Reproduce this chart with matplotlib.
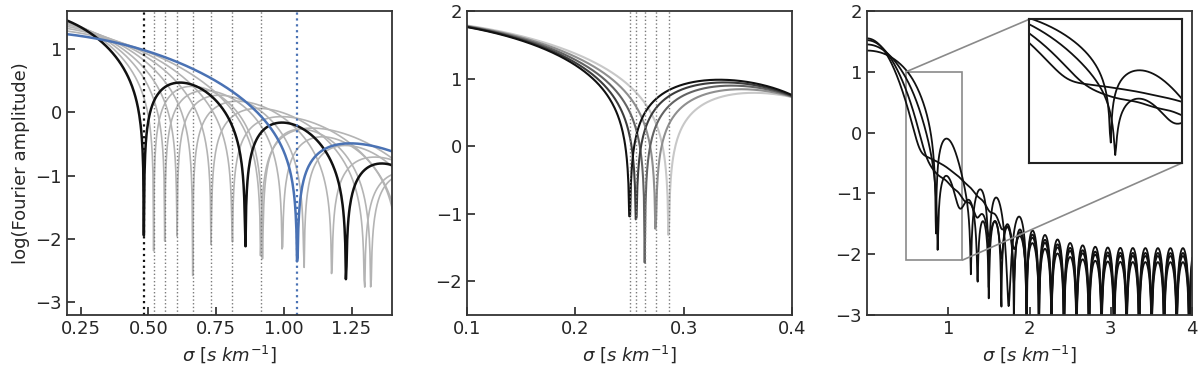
import numpy as np
import matplotlib.pyplot as plt
from mpl_toolkits.axes_grid1.inset_locator import mark_inset

# ---------------- values ----------------
# left panel: first zeros (s/km) of the rotational transforms
left_black_zero = 0.484
left_blue_zero = 1.050
left_grey_zeros = [0.520, 0.561, 0.606, 0.664, 0.732, 0.810, 0.915]
left_black_peak = 1.62      # log amplitude at sigma = 0 for the black curve
left_eps = 0.5              # limb darkening
left_damp = 1.1             # gaussian damping of the transform

# middle panel: same vsini, different limb darkening
mid_zeros = [0.250, 0.256, 0.264, 0.274, 0.286]
mid_eps = [0.0, 0.25, 0.5, 0.75, 1.0]
mid_colors = ["#111111", "#3c3c3c", "#636363", "#8f8f8f", "#c8c8c8"]
mid_peak = 1.90
mid_damp = 0.8

# right panel: four observed-like transforms
right_peak = [1.35, 1.45, 1.52, 1.55]
right_zero = [0.845, 0.866, 0.90, 0.90]
right_second_zero = [1.247, 0, 0, 0]
right_damp_scale = [1.20, 0.609, 0.423, 0.354]
right_damp_power = [4, 2, 2, 2]
right_odd = [0.05, 0.045, 1.0, 1.27]          # asymmetric (imaginary) part
right_odd_width = [0.79, 0.79, 0.72, 0.79]
right_ripple = [-1.90, -1.98, -2.03, -2.13]   # log level of the high-sigma ripple
ripple_peak = 2.962
ripple_period = 0.154


def bessel_j1(x):
    tau = np.linspace(0, np.pi, 401)
    return np.trapezoid(np.cos(tau - x[:, None] * np.sin(tau)), tau, axis=1) / np.pi


def rot_ft(x, eps):
    x = np.maximum(x, 1e-3)
    a = bessel_j1(x) / x
    b = (np.sin(x) - x * np.cos(x)) / x**3
    return ((1 - eps) * a + eps * b) / ((1 - eps) / 2 + eps / 3)


def first_zero(eps):
    x = np.linspace(3.5, 4.8, 2601)
    g = rot_ft(x, eps)
    i = np.argmax(g < 0)
    return x[i - 1] + (x[i] - x[i - 1]) * g[i - 1] / (g[i - 1] - g[i])


def rot_curve(sig, zero, eps):
    return rot_ft(first_zero(eps) * sig / zero, eps)


plt.rcParams["font.family"] = "DejaVu Sans"
plt.rcParams["font.size"] = 13
plt.rcParams["text.color"] = "#262626"
plt.rcParams["axes.labelcolor"] = "#262626"
plt.rcParams["xtick.color"] = "#262626"
plt.rcParams["ytick.color"] = "#262626"
plt.rcParams["axes.edgecolor"] = "#333333"
plt.rcParams["axes.linewidth"] = 1.3

fig = plt.figure(figsize=(12, 3.73), dpi=100)
w, h, b = 0.271, 0.815, 0.1555
ax1 = fig.add_axes([0.0558, b, w, h])
ax2 = fig.add_axes([0.3892, b, w, h])
ax3 = fig.add_axes([0.7225, b, w, h])

xlabel = r"$\sigma\ [s\ km^{-1}]$"
blue = "#4a72b4"

# ---------------- left panel ----------------
sig = np.linspace(0.2, 1.4, 500)
for z in left_grey_zeros:
    peak = left_black_peak - np.log10(z / left_black_zero)
    g = 10**peak * rot_curve(sig, z, left_eps) * np.exp(-left_damp * sig**2)
    ax1.plot(sig, np.log10(np.abs(g)), color="#b4b4b4", lw=1.2)
    ax1.axvline(z, color="#7a7a7a", ls=":", lw=1.0)

g = 10**left_black_peak * rot_curve(sig, left_black_zero, left_eps) * np.exp(-left_damp * sig**2)
ax1.plot(sig, np.log10(np.abs(g)), color="#111111", lw=1.8)
ax1.axvline(left_black_zero, color="#111111", ls=":", lw=1.6)

peak = left_black_peak - np.log10(left_blue_zero / left_black_zero)
g = 10**peak * rot_curve(sig, left_blue_zero, left_eps) * np.exp(-left_damp * sig**2)
ax1.plot(sig, np.log10(np.abs(g)), color=blue, lw=1.8)
ax1.axvline(left_blue_zero, color=blue, ls=":", lw=1.6)

ax1.set_xlim(0.2, 1.4)
ax1.set_ylim(-3.2, 1.6)
ax1.set_xticks([0.25, 0.5, 0.75, 1.0, 1.25])
ax1.set_xticklabels(["0.25", "0.50", "0.75", "1.00", "1.25"])
ax1.set_yticks([-3, -2, -1, 0, 1])
ax1.set_ylabel("log(Fourier amplitude)")

# ---------------- middle panel ----------------
sig = np.linspace(0.1, 0.4, 400)
for z, e, c in zip(mid_zeros[::-1], mid_eps[::-1], mid_colors[::-1]):
    g = 10**mid_peak * rot_curve(sig, z, e) * np.exp(-mid_damp * sig**2)
    ax2.plot(sig, np.log10(np.abs(g)), color=c, lw=1.5)
for z in mid_zeros:
    ax2.axvline(z, color="#7a7a7a", ls=":", lw=1.0)
ax2.set_xlim(0.1, 0.4)
ax2.set_ylim(-2.5, 2)
ax2.set_xticks([0.1, 0.2, 0.3, 0.4])
ax2.set_yticks([-2, -1, 0, 1, 2])

# ---------------- right panel ----------------
sig = np.linspace(0.0, 4.0, 1000)
axins = fig.add_axes([0.8575, 0.563, 0.1275, 0.385])
for k in range(4):
    damp = np.exp(-(sig / right_damp_scale[k]) ** right_damp_power[k])
    real = 10**right_peak[k] * rot_curve(sig, right_zero[k], 0.5) * damp
    if right_second_zero[k] > 0:
        real = real * (1 - (sig / right_second_zero[k]) ** 4)
    boost = 1 + 3 * np.exp(-((sig - 1.2) / 0.8) ** 2)
    real = real + 10**right_ripple[k] * boost * np.cos(np.pi * (sig - ripple_peak) / ripple_period)
    imag = right_odd[k] * sig * np.exp(-sig**2 / right_odd_width[k] ** 2)
    amp = np.log10(np.hypot(real, imag))
    ax3.plot(sig, amp, color="#111111", lw=1.3)
    axins.plot(sig, amp, color="#111111", lw=1.3)

ax3.set_xlim(0, 4)
ax3.set_ylim(-3, 2)
ax3.set_xticks([1, 2, 3, 4])
ax3.set_yticks([-3, -2, -1, 0, 1, 2])

axins.set_xlim(0.48, 1.17)
axins.set_ylim(-2.1, 1.0)
axins.set_xticks([])
axins.set_yticks([])
for s in axins.spines.values():
    s.set_edgecolor("#222222")
    s.set_linewidth(1.5)
mark_inset(ax3, axins, loc1=2, loc2=4, fc="none", ec="#8a8a8a", lw=1.2)

for ax in (ax1, ax2, ax3):
    ax.set_xlabel(xlabel)
    ax.tick_params(direction="in", length=6, width=1.2, top=False, right=False, labelsize=13)

fig.savefig("out.png", dpi=100)
